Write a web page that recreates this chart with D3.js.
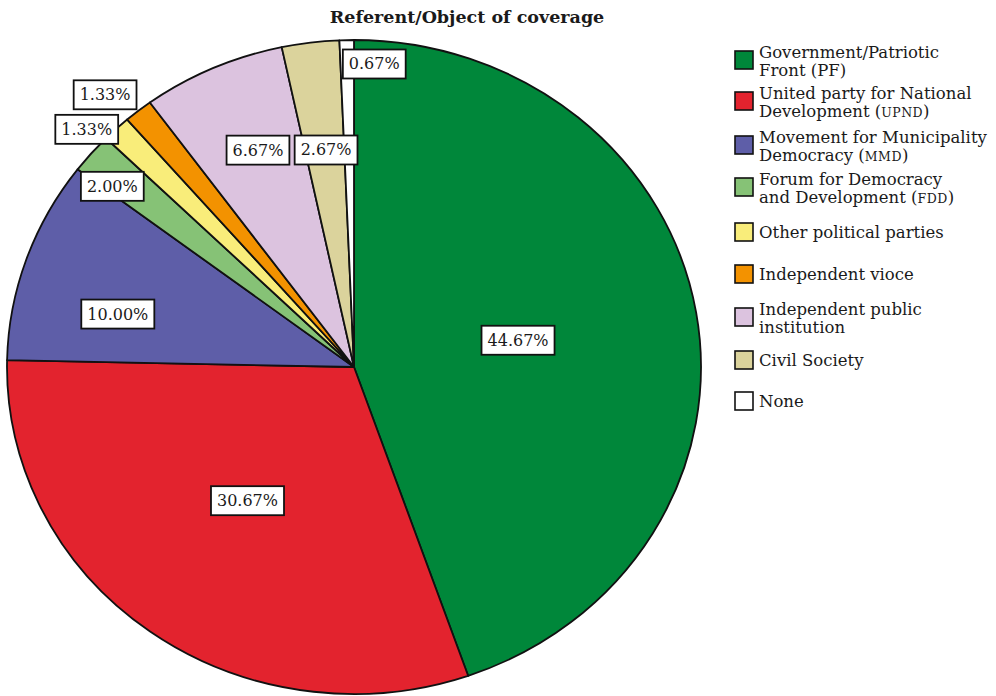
<!DOCTYPE html>
<html>
<head>
<meta charset="utf-8">
<script src="https://cdn.jsdelivr.net/npm/d3@7"></script>
<style>
  html, body { margin: 0; padding: 0; background: #fff; }
  svg { display: block; }
  text { font-family: "DejaVu Serif", "Liberation Serif", serif; fill: #1a1a1a; }
</style>
</head>
<body>
<svg id="chart" width="996" height="696"></svg>
<script>
// ---- data ----
const categories = [
  "Government/Patriotic Front (PF)",
  "United party for National Development (UPND)",
  "Movement for Municipality Democracy (MMD)",
  "Forum for Democracy and Development (FDD)",
  "Other political parties",
  "Independent vioce",
  "Independent public institution",
  "Civil Society",
  "None"
];
const values = [44.67, 30.67, 10.00, 2.00, 1.33, 1.33, 6.67, 2.67, 0.67];
const valueLabels = ["44.67%", "30.67%", "10.00%", "2.00%", "1.33%", "1.33%", "6.67%", "2.67%", "0.67%"];
const colors = ["#00873a", "#e3232e", "#5e5ea8", "#86c276", "#f9ed7a", "#f39200", "#dcc3df", "#dbd39c", "#ffffff"];
// legend lines (acronym split out for small caps)
const legendLines = [
  [["Government/Patriotic"], ["Front (PF)"]],
  [["United party for National"], ["Development (", "UPND", ")"]],
  [["Movement for Municipality"], ["Democracy (", "MMD", ")"]],
  [["Forum for Democracy"], ["and Development (", "FDD", ")"]],
  [["Other political parties"]],
  [["Independent vioce"]],
  [["Independent public"], ["institution"]],
  [["Civil Society"]],
  [["None"]]
];

// ---- layout ----
const W = 996, H = 696;
const cx = 354, cy = 367, rx = 347, ry = 327;
// label placement: [radius factor (of ellipse), angle in degrees clockwise from top]
const labelLayout = [
  [0.48, 80], [0.51, 217], [0.70, 283.5], [0.89, 308.5], [1.06, 313.4],
  [1.10, 319.3], [0.72, 337.4], [0.67, 353.1], [0.93, 3.6]
];
const legendX = 735, legendBox = 18;
const legendTops = [51, 92, 136, 178, 223, 265, 308, 351, 392];

const svg = d3.select("#chart");

svg.append("text")
  .attr("x", 467).attr("y", 23)
  .attr("text-anchor", "middle")
  .style("font-weight", "bold").style("font-size", "17.5px")
  .text("Referent/Object of coverage");

const pie = d3.pie().sort(null).value(d => d).startAngle(0).endAngle(2 * Math.PI);
const arcs = pie(values);
const arc = d3.arc().innerRadius(0).outerRadius(rx);

const g = svg.append("g").attr("transform", `translate(${cx},${cy}) scale(1,${ry / rx})`);
g.selectAll("path.slice").data(arcs).join("path")
  .attr("class", "slice")
  .attr("d", arc)
  .attr("fill", (d, i) => colors[i])
  .attr("stroke", "#111")
  .attr("stroke-width", 1.8)
  .attr("stroke-linejoin", "round")
  .attr("vector-effect", "non-scaling-stroke");

// labels
const lab = svg.append("g");
arcs.forEach((d, i) => {
  const [rf, ang] = labelLayout[i];
  const a = ang * Math.PI / 180;
  const x = cx + rf * rx * Math.sin(a);
  const y = cy - rf * ry * Math.cos(a);
  const gg = lab.append("g");
  const t = gg.append("text")
    .attr("x", x).attr("y", y + 6)
    .attr("text-anchor", "middle")
    .style("font-size", "16px")
    .text(valueLabels[i]);
  const bb = t.node().getBBox();
  gg.insert("rect", "text")
    .attr("x", x - bb.width / 2 - 6).attr("y", y - 14)
    .attr("width", bb.width + 12).attr("height", 29)
    .attr("fill", "#fff").attr("stroke", "#111").attr("stroke-width", 1.8);
});

// legend
const lg = svg.append("g");
categories.forEach((c, i) => {
  const top = legendTops[i];
  lg.append("rect")
    .attr("x", legendX).attr("y", top)
    .attr("width", legendBox).attr("height", legendBox)
    .attr("fill", colors[i]).attr("stroke", "#111").attr("stroke-width", 1.6);
  const lines = legendLines[i];
  const n = lines.length;
  const mid = top + legendBox / 2;
  lines.forEach((parts, j) => {
    const base = n === 1 ? mid + 6 : mid - 2 + j * 18;
    const t = lg.append("text").attr("x", 759).attr("y", base).style("font-size", "16.5px");
    parts.forEach((p, k) => {
      const ts = t.append("tspan").text(p);
      if (k === 1) ts.style("font-size", "12.5px").style("letter-spacing", "0.5px");
    });
  });
});
</script>
</body>
</html>
